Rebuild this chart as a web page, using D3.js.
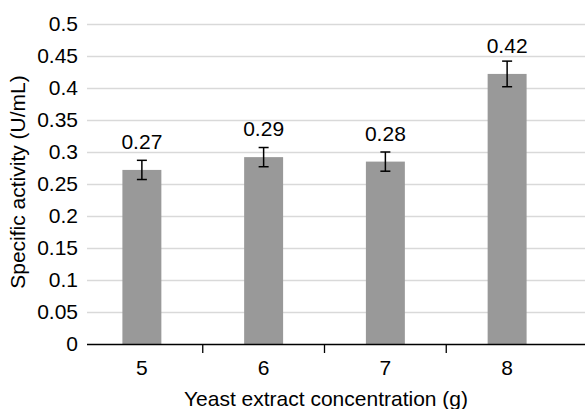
<!DOCTYPE html>
<html>
<head>
<meta charset="utf-8">
<script src="https://cdn.jsdelivr.net/npm/d3@7"></script>
<style>
  body { margin: 0; background: #fff; }
  text { font-family: "Liberation Sans", Arial, sans-serif; fill: #000; }
</style>
</head>
<body>
<div id="chart"></div>
<script>
var categories = ["5", "6", "7", "8"];
var values = [0.272, 0.292, 0.285, 0.422];
var errors = [0.015, 0.015, 0.015, 0.02];
var labels = ["0.27", "0.29", "0.28", "0.42"];
var yTicks = [0, 0.05, 0.1, 0.15, 0.2, 0.25, 0.3, 0.35, 0.4, 0.45, 0.5];

var svgwidth = 585, svgheight = 409;
var margin = { top: 24, bottom: 65, left: 81, right: 17 };
var height = svgheight - margin.top - margin.bottom;
var width = svgwidth - margin.left - margin.right;
var fs = "21px";

var svg = d3.select("#chart").append("svg")
  .attr("width", svgwidth)
  .attr("height", svgheight);

var chartGroup = svg.append("g")
  .attr("transform", `translate(${margin.left}, ${margin.top})`);

var xscale = d3.scaleBand()
  .domain(categories)
  .range([0, width])
  .paddingInner(0.68)
  .paddingOuter(0.34);

var yscale = d3.scaleLinear()
  .domain([0, 0.5])
  .range([height, 0]);

// gridlines
chartGroup.append("g")
  .selectAll("line")
  .data(yTicks.slice(1))
  .enter()
  .append("line")
  .attr("x1", 6)
  .attr("x2", width + margin.right)
  .attr("y1", d => Math.round(yscale(d)) + 0.5)
  .attr("y2", d => Math.round(yscale(d)) + 0.5)
  .attr("stroke", "#d9d9d9")
  .attr("stroke-width", 1.3);

// y tick labels
chartGroup.append("g")
  .selectAll("text")
  .data(yTicks)
  .enter()
  .append("text")
  .attr("x", -3)
  .attr("y", d => yscale(d))
  .attr("dy", "0.35em")
  .attr("text-anchor", "end")
  .style("font-size", fs)
  .text(d => d);

// bars
chartGroup.selectAll("rect.bar")
  .data(values)
  .enter()
  .append("rect")
  .attr("class", "bar")
  .attr("x", (d, i) => xscale(categories[i]))
  .attr("width", xscale.bandwidth())
  .attr("y", d => yscale(d))
  .attr("height", d => height - yscale(d))
  .attr("fill", "#999999");

// error bars
var errGroup = chartGroup.append("g")
  .attr("stroke", "#000")
  .attr("stroke-width", 1.5);
values.forEach(function(v, i) {
  var cx = xscale(categories[i]) + xscale.bandwidth() / 2;
  var top = yscale(v + errors[i]);
  var bot = yscale(v - errors[i]);
  errGroup.append("line").attr("x1", cx).attr("x2", cx).attr("y1", top).attr("y2", bot);
  errGroup.append("line").attr("x1", cx - 5).attr("x2", cx + 5).attr("y1", top).attr("y2", top);
  errGroup.append("line").attr("x1", cx - 5).attr("x2", cx + 5).attr("y1", bot).attr("y2", bot);
});

// data labels
chartGroup.selectAll("text.vlabel")
  .data(values)
  .enter()
  .append("text")
  .attr("class", "vlabel")
  .attr("x", (d, i) => xscale(categories[i]) + xscale.bandwidth() / 2)
  .attr("y", d => yscale(d) - 21)
  .attr("text-anchor", "middle")
  .style("font-size", fs)
  .text((d, i) => labels[i]);

// x axis
var xaxis = d3.axisBottom(xscale).tickSize(0).tickPadding(16);
var xg = chartGroup.append("g")
  .attr("transform", `translate(0, ${height})`)
  .call(xaxis);
xg.select(".domain").remove();
xg.selectAll("text").style("font-size", fs).style("font-family", "Liberation Sans, Arial, sans-serif");
xg.append("line")
  .attr("x1", 6).attr("x2", width + margin.right)
  .attr("y1", 0.5).attr("y2", 0.5)
  .attr("stroke", "#000").attr("stroke-width", 1.5);
// category boundary ticks
xg.selectAll("line.sep")
  .data(categories.slice(1))
  .enter()
  .append("line")
  .attr("class", "sep")
  .attr("x1", d => xscale(d) - xscale.step() * xscale.paddingInner() / 2)
  .attr("x2", d => xscale(d) - xscale.step() * xscale.paddingInner() / 2)
  .attr("y1", 0).attr("y2", 9)
  .attr("stroke", "#000").attr("stroke-width", 1.3);

// axis titles
svg.append("text")
  .attr("x", 326)
  .attr("y", 406)
  .attr("text-anchor", "middle")
  .style("font-size", fs)
  .text("Yeast extract concentration (g)");

svg.append("text")
  .attr("transform", "translate(25, 182) rotate(-90)")
  .attr("text-anchor", "middle")
  .style("font-size", fs)
  .text("Specific activity (U/mL)");
</script>
</body>
</html>
